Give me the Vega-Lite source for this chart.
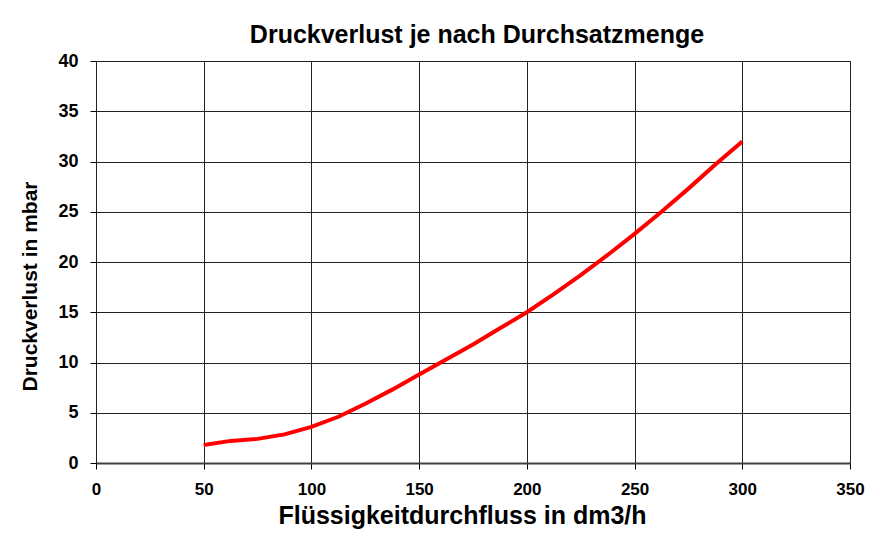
{
  "$schema": "https://vega.github.io/schema/vega-lite/v6.json",
  "autosize": {"type": "none"},
  "width": 754,
  "height": 402,
  "padding": {"left": 96, "top": 61, "right": 30, "bottom": 93},
  "background": "#ffffff",
  "title": {
    "text": "Druckverlust je nach Durchsatzmenge",
    "font": "Liberation Sans",
    "fontSize": 25,
    "fontWeight": "bold",
    "color": "#000000",
    "anchor": "middle",
    "frame": "group",
    "baseline": "alphabetic",
    "offset": -16,
    "dx": 4
  },
  "config": {
    "view": {"stroke": "#000000", "strokeWidth": 1},
    "axis": {
      "labelFont": "Liberation Sans",
      "labelFontWeight": "bold",
      "labelColor": "#000000",
      "labelFlush": false,
      "labelOverlap": false,
      "titleFont": "Liberation Sans",
      "titleFontWeight": "bold",
      "titleColor": "#000000",
      "gridColor": "#222222",
      "gridOpacity": 1,
      "gridWidth": 1,
      "tickColor": "#000000",
      "tickSize": 6,
      "domainColor": "#404040"
    }
  },
  "data": {
    "values": [
      {"q": 50, "p": 1.8},
      {"q": 62.5, "p": 2.2},
      {"q": 75, "p": 2.4},
      {"q": 87.5, "p": 2.85},
      {"q": 100, "p": 3.6},
      {"q": 112.5, "p": 4.6},
      {"q": 125, "p": 5.9},
      {"q": 137.5, "p": 7.3},
      {"q": 150, "p": 8.8},
      {"q": 162.5, "p": 10.3},
      {"q": 175, "p": 11.8},
      {"q": 187.5, "p": 13.4},
      {"q": 200, "p": 15.0},
      {"q": 212.5, "p": 16.8},
      {"q": 225, "p": 18.7},
      {"q": 237.5, "p": 20.7},
      {"q": 250, "p": 22.8},
      {"q": 262.5, "p": 25.0},
      {"q": 275, "p": 27.3},
      {"q": 287.5, "p": 29.7},
      {"q": 300, "p": 32.0}
    ]
  },
  "mark": {"type": "line", "color": "#ff0000", "strokeWidth": 4, "interpolate": "linear"},
  "encoding": {
    "x": {
      "field": "q",
      "type": "quantitative",
      "scale": {"domain": [0, 350], "nice": false},
      "axis": {
        "values": [0, 50, 100, 150, 200, 250, 300, 350],
        "title": "Flüssigkeitdurchfluss in dm3/h",
        "titleFontSize": 25,
        "titleX": 366,
        "titleY": 60,
        "titleBaseline": "alphabetic",
        "labelFontSize": 17,
        "labelPadding": 12,
        "domainWidth": 2,
        "grid": true
      }
    },
    "y": {
      "field": "p",
      "type": "quantitative",
      "scale": {"domain": [0, 40], "nice": false},
      "axis": {
        "values": [0, 5, 10, 15, 20, 25, 30, 35, 40],
        "title": "Druckverlust in mbar",
        "titleFontSize": 21,
        "titleX": -56,
        "titleY": 225,
        "labelFontSize": 18,
        "labelPadding": 12,
        "domain": false,
        "grid": true
      }
    }
  }
}
